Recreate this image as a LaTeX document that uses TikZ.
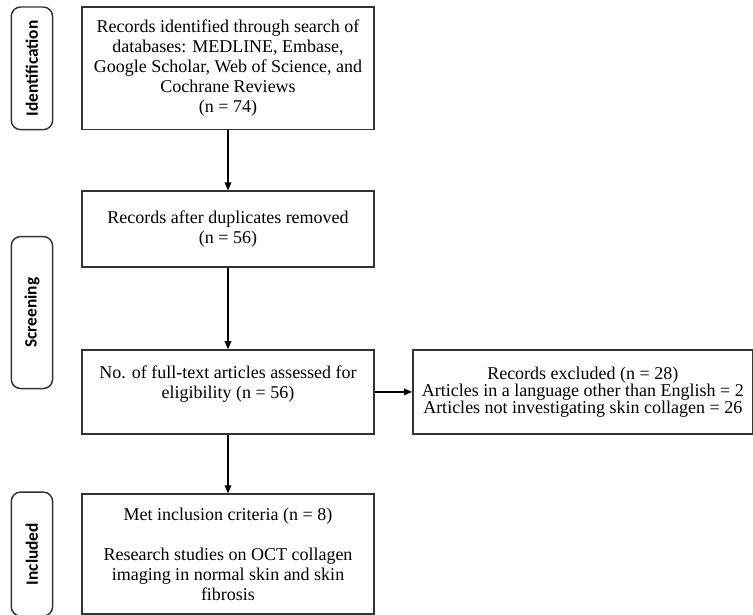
\documentclass[tikz,border=0pt]{standalone}
\usepackage{fontspec}
\setmainfont{Liberation Serif}
\setsansfont{Carlito}
\usetikzlibrary{positioning,arrows.meta}

\begin{document}
\begin{tikzpicture}[
    node distance=45pt,
    box/.style={rectangle, draw=black!80, line width=1.1pt, minimum width=219pt, align=center, font=\fontsize{13.5}{15}\selectfont},
    stage/.style={rectangle, draw=black!80, line width=1.1pt, rounded corners=7pt, rotate=90, minimum height=31pt, font=\sffamily\bfseries\fontsize{13}{14}\selectfont},
    arrow/.style={-{Triangle[length=6pt,width=5pt]}, line width=0.9pt}
]
    \useasboundingbox (0,0) rectangle (564.75pt,-460.5pt);

    \node[box, minimum height=92pt] (search) at (171pt,-51.25pt) {Records identified through search of\\databases: MEDLINE, Embase,\\Google Scholar, Web of Science, and\\Cochrane Reviews\\(n = 74)};
    \node[box, minimum height=57pt, below=45pt of search] (dedup) {Records after duplicates removed\\(n = 56)};
    \node[box, minimum height=63pt, below=61pt of dedup] (fulltext) {No. of full-text articles assessed for\\eligibility (n = 56)\\[0pt]};
    \node[box, minimum height=90pt, below=44pt of fulltext] (included) {Met inclusion criteria (n = 8)\\[15pt]Research studies on OCT collagen\\imaging in normal skin and skin\\fibrosis};
    \node[box, minimum width=255pt, minimum height=63pt, right=28pt of fulltext, font=\fontsize{13.5}{12.8}\selectfont] (excluded) {Records excluded (n = 28)\\Articles in a language other than English = 2\\Articles not investigating skin collagen = 26};

    \draw[arrow] (search) -- (dedup);
    \draw[arrow] (dedup) -- (fulltext);
    \draw[arrow] (fulltext) -- (included);
    \draw[arrow] (fulltext) -- (excluded);

    % stage labels on the left
    \path (dedup.north) -- (fulltext.south) coordinate[midway] (screenmid);
    \node[stage, minimum width=92pt] (idtab) at ([xshift=-37pt]search.west) {Identification};
    \node[stage, minimum width=114pt] (screentab) at (idtab |- screenmid) {Screening};
    \node[stage, minimum width=93pt] (inctab) at ([xshift=-37pt]included.west) {Included};
\end{tikzpicture}
\end{document}
